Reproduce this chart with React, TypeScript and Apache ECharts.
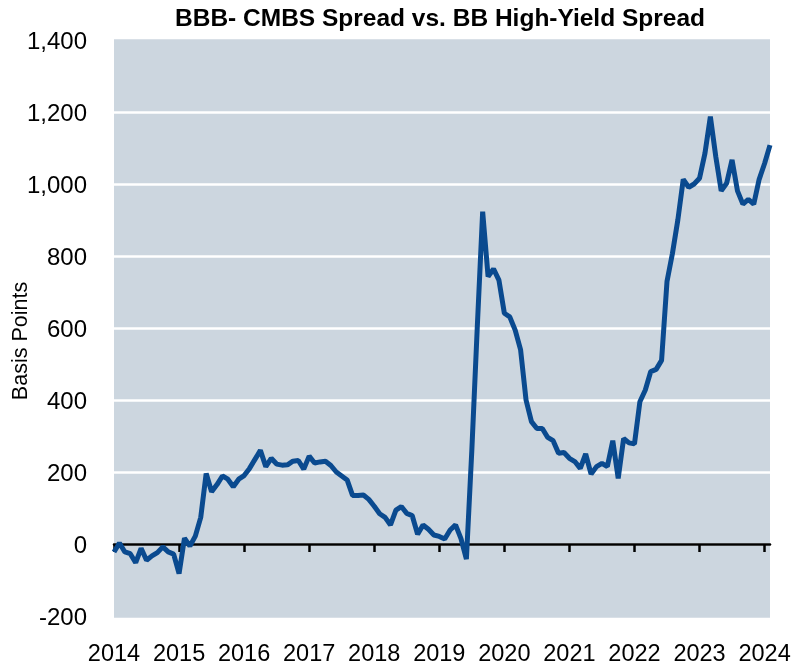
import React, { useEffect, useRef } from 'react';
import * as echarts from 'echarts';

const TITLE = 'BBB- CMBS Spread vs. BB High-Yield Spread';
const Y_NAME = 'Basis Points';
const Y_MIN = -200;
const Y_MAX = 1400;
const Y_STEP = 200;
const START_YEAR = 2014;

// Monthly spread (bps), Jan 2014 onward
const spreadBps = [
  -22, 3, -22, -27, -52, -12, -45, -33, -24, -8, -22, -28,
  -82, 16, -6, 22, 74, 196, 145, 165, 189, 180, 159, 180,
  190, 210, 235, 260, 215, 238, 222, 219, 220, 230, 232, 208,
  244, 225, 228, 230, 218, 200, 189, 178, 135, 135, 136, 124,
  105, 84, 74, 53, 94, 104, 85, 79, 27, 53, 41, 25,
  21, 14, 39, 53, 15, -42, 260, 600, 923, 743, 764, 733,
  641, 631, 594, 539, 400, 340, 321, 321, 296, 287, 252, 254,
  238, 229, 210, 250, 194, 215, 224, 215, 287, 182, 293, 281,
  278, 395, 428, 479, 485, 510, 729, 807, 900, 1013, 991, 1000,
  1016, 1085, 1187, 1076, 981, 1002, 1067, 981, 944, 957, 944, 1013,
  1057, 1108,
];

const months = spreadBps.map(
  (_, i) => `${START_YEAR + Math.floor(i / 12)}-${String((i % 12) + 1).padStart(2, '0')}`
);

const FONT = "'Liberation Sans', Arial, sans-serif";
const PLOT_BG = '#ccd6df';
const LINE_COLOR = '#0a4a8f';

export default function App() {
  const ref = useRef<HTMLDivElement>(null);
  useEffect(() => {
    const chart = echarts.init(ref.current!, null, { renderer: 'svg' });
    const isYear = (i: number) => i % 12 === 0;
    chart.setOption({
      animation: false,
      graphic: [
        {
          type: 'text',
          x: 440,
          y: 17,
          style: {
            text: TITLE,
            fontFamily: FONT,
            fontWeight: 'bold',
            fontSize: 24.5,
            fill: '#000',
            textAlign: 'center',
            textVerticalAlign: 'middle',
          },
        },
        {
          type: 'text',
          x: 20,
          y: 341,
          rotation: Math.PI / 2,
          style: {
            text: Y_NAME,
            fontFamily: FONT,
            fontSize: 21.5,
            fill: '#000',
            textAlign: 'center',
            textVerticalAlign: 'middle',
          },
        },
      ],
      grid: {
        left: 114,
        right: 22,
        top: 40,
        bottom: 49,
        show: true,
        backgroundColor: PLOT_BG,
        borderWidth: 0,
        containLabel: false,
        outerBoundsMode: 'none',
      },
      xAxis: [
        {
          type: 'category',
          data: months,
          boundaryGap: false,
          axisLine: { onZero: true, lineStyle: { color: '#000', width: 2.5 } },
          axisTick: {
            show: true,
            interval: (i: number) => isYear(i),
            length: 8,
            lineStyle: { color: '#000', width: 2.5 },
          },
          axisLabel: { show: false },
          splitLine: { show: false },
        },
        {
          type: 'category',
          data: months,
          boundaryGap: false,
          position: 'bottom',
          axisLine: { show: false, onZero: false },
          axisTick: { show: false },
          splitLine: { show: false },
          axisLabel: {
            interval: (i: number) => isYear(i),
            formatter: (v: string) => v.slice(0, 4),
            fontSize: 23.5,
            fontFamily: FONT,
            color: '#000',
            margin: 25,
            showMinLabel: true,
            hideOverlap: false,
          },
        },
      ],
      yAxis: {
        type: 'value',
        min: Y_MIN,
        max: Y_MAX,
        interval: Y_STEP,
        axisLine: { show: false },
        axisTick: { show: false },
        splitLine: {
          lineStyle: {
            color: [PLOT_BG, '#fff', '#fff', '#fff', '#fff', '#fff', '#fff', '#fff'],
            width: 2.5,
          },
        },
        axisLabel: {
          formatter: (v: number) => v.toLocaleString('en-US'),
          fontSize: 24,
          fontFamily: FONT,
          color: '#000',
          margin: 27,
        },
      },
      series: [
        {
          type: 'line',
          data: spreadBps,
          xAxisIndex: 0,
          symbol: 'none',
          showSymbol: false,
          lineStyle: { color: LINE_COLOR, width: 5 },
        },
      ],
    });
    return () => chart.dispose();
  }, []);
  return (
    <div
      ref={ref}
      style={{ position: 'fixed', left: 0, top: 0, width: 792, height: 665 }}
    />
  );
}
